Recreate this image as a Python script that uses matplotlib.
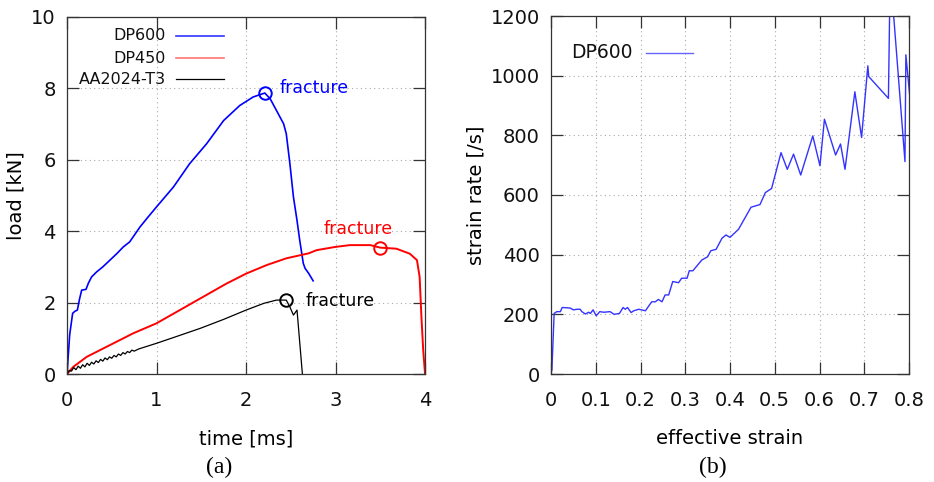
import numpy as np
import matplotlib
matplotlib.use("Agg")
import matplotlib.pyplot as plt
from matplotlib.lines import Line2D

# (a) load vs time
t_dp600 = [0.0, 0.03, 0.063, 0.09, 0.116, 0.14, 0.164, 0.212, 0.24, 0.275, 0.331, 0.4, 0.48, 0.56,
           0.629, 0.70, 0.816, 0.9, 1.0, 1.19, 1.37, 1.56, 1.75, 1.93, 2.08, 2.21,
           2.27, 2.36, 2.42, 2.45, 2.49, 2.53, 2.57, 2.60, 2.64, 2.66, 2.70, 2.75]
f_dp600 = [0.0, 1.1, 1.70, 1.76, 1.79, 2.1, 2.35, 2.37, 2.55, 2.72, 2.86, 3.0, 3.19, 3.38,
           3.56, 3.70, 4.12, 4.38, 4.68, 5.24, 5.89, 6.45, 7.10, 7.52, 7.76, 7.87,
           7.71, 7.29, 7.01, 6.73, 5.9, 4.96, 4.3, 3.75, 3.1, 2.96, 2.82, 2.61]

t_dp450 = [0.0, 0.07, 0.22, 0.48, 0.74, 1.0, 1.26, 1.52, 1.78, 2.0, 2.23, 2.45, 2.70, 2.79,
           3.0, 3.16, 3.39, 3.50, 3.68, 3.83, 3.91, 3.94, 3.96, 3.98, 4.0]
f_dp450 = [0.0, 0.20, 0.48, 0.81, 1.14, 1.42, 1.79, 2.16, 2.53, 2.81, 3.05, 3.24, 3.38, 3.47,
           3.56, 3.61, 3.61, 3.54, 3.51, 3.37, 3.19, 2.72, 1.60, 0.67, 0.02]

t_aa = [0.0, 0.025, 0.05, 0.075, 0.10, 0.125, 0.15, 0.175, 0.20, 0.225, 0.25, 0.275, 0.30,
        0.325, 0.35, 0.375, 0.40, 0.425, 0.45, 0.475, 0.50, 0.525, 0.55, 0.575, 0.60, 0.625,
        0.65, 0.675, 0.70, 0.725, 0.75, 0.80, 0.90, 1.0, 1.2, 1.49, 1.75, 2.0, 2.2, 2.34,
        2.45, 2.49, 2.53, 2.57, 2.63]
f_aa = [0.0, 0.10, 0.08, 0.18, 0.12, 0.22, 0.16, 0.26, 0.20, 0.30, 0.24, 0.33, 0.28,
        0.37, 0.32, 0.41, 0.36, 0.45, 0.40, 0.48, 0.44, 0.52, 0.48, 0.56, 0.52, 0.60,
        0.56, 0.63, 0.60, 0.67, 0.64, 0.70, 0.78, 0.86, 1.03, 1.28, 1.53, 1.79, 1.98, 2.07,
        2.07, 1.88, 1.65, 1.79, 0.0]

frac_t = [2.21, 3.50, 2.45]
frac_f = [7.87, 3.54, 2.07]

# (b) strain rate vs effective strain
eps = [0.002, 0.007, 0.013, 0.021, 0.025, 0.043, 0.05, 0.058, 0.065, 0.069, 0.077, 0.084, 0.088,
       0.094, 0.101, 0.109, 0.118, 0.132, 0.141, 0.153, 0.161, 0.166, 0.171, 0.179, 0.185, 0.196,
       0.211, 0.225, 0.233, 0.24, 0.248, 0.255, 0.263, 0.272, 0.285, 0.292, 0.304, 0.309, 0.317,
       0.337, 0.35, 0.357, 0.369, 0.382, 0.391, 0.4, 0.419, 0.447, 0.467, 0.479, 0.493, 0.514,
       0.528, 0.542, 0.558, 0.585, 0.601, 0.611, 0.636, 0.647, 0.657, 0.679, 0.694, 0.708, 0.71,
       0.754, 0.758, 0.791, 0.793, 0.805]
rate = [13, 203, 209, 209, 223, 221, 215, 217, 217, 209, 201, 207, 203,
        215, 195, 209, 207, 209, 200, 203, 223, 217, 223, 206, 212, 217,
        212, 242, 242, 250, 242, 265, 265, 310, 306, 321, 321, 346, 346,
        382, 393, 413, 418, 455, 466, 458, 485, 559, 568, 608, 622, 742,
        686, 737, 667, 798, 698, 854, 734, 771, 686, 946, 793, 1033, 997,
        924, 1350, 712, 1070, 880]

fig = plt.figure(figsize=(9.34, 4.82), dpi=100)
ax1 = fig.add_axes([67/934, 1-374/482, 358/934, 357/482])
ax2 = fig.add_axes([551/934, 1-374/482, 358/934, 358/482])


def style(ax):
    ax.tick_params(direction='in', length=8.5, width=0.9, top=True, right=True,
                   labelsize=14, colors='#333333', labelcolor='#111111')
    ax.tick_params(axis='x', pad=12)
    ax.tick_params(axis='y', pad=8)
    for s in ax.spines.values():
        s.set_linewidth(0.9)
        s.set_color('#333333')
    ax.grid(True, linestyle=(0, (1, 3)), color='#aaaaaa', linewidth=0.8)
    ax.set_axisbelow(True)


names = ['DP600', 'DP450', 'AA2024-T3']
colors = ['blue', 'red', 'black']
widths = [1.2, 1.4, 0.9]
ax1.plot(t_dp600, f_dp600, color=colors[0], lw=widths[0])
ax1.plot(t_dp450, f_dp450, color=colors[1], lw=widths[1])
ax1.plot(t_aa, f_aa, color=colors[2], lw=widths[2])
for i in range(3):
    ax1.plot(frac_t[i], frac_f[i], 'o', mfc='none', mec=colors[i], ms=9, mew=1.4)
ax1.text(2.38, 8.0, 'fracture', color='blue', fontsize=12.5, va='center')
ax1.text(2.87, 4.05, 'fracture', color='red', fontsize=12.5, va='center')
ax1.text(2.67, 2.04, 'fracture', color='black', fontsize=12.5, va='center')
ax1.set_xlim(0, 4)
ax1.set_ylim(0, 10)
ax1.set_xticks([0, 1, 2, 3, 4])
ax1.set_yticks([0, 2, 4, 6, 8, 10])
style(ax1)
ax1.set_xlabel('time [ms]', fontsize=14, labelpad=14)
ax1.set_ylabel('load [kN]', fontsize=14, labelpad=4)

# gnuplot-style key: right-aligned labels, sample line after
key_y = [0.947, 0.885, 0.826]
for i in range(3):
    ax1.text(0.276, key_y[i], names[i], transform=ax1.transAxes, ha='right', va='center',
             fontsize=11.5, color='#111111')
    ax1.add_line(Line2D([0.304, 0.439], [key_y[i], key_y[i]], transform=ax1.transAxes,
                        color=colors[i], lw=widths[i] if i != 1 else 1.2,
                        alpha=0.8 if i == 0 else (0.55 if i == 1 else 1.0)))

ax2.plot(eps, rate, color='#3333ff', lw=1.0, label='DP600')
ax2.set_xlim(0, 0.8)
ax2.set_ylim(0, 1200)
ax2.set_xticks(np.arange(0, 0.81, 0.1))
ax2.set_xticklabels(['0', '0.1', '0.2', '0.3', '0.4', '0.5', '0.6', '0.7', '0.8'])
ax2.set_yticks([0, 200, 400, 600, 800, 1000, 1200])
style(ax2)
ax2.set_xlabel('effective strain', fontsize=14, labelpad=14)
ax2.set_ylabel('strain rate [/s]', fontsize=14, labelpad=4)
ax2.text(0.229, 0.897, 'DP600', transform=ax2.transAxes, ha='right', va='center',
         fontsize=13.5, color='#111111')
ax2.add_line(Line2D([0.265, 0.397], [0.897, 0.897], transform=ax2.transAxes,
                    color='#3333ff', lw=1.0, alpha=0.75))

fig.text(219/934, 1-467/482, '(a)', family='Liberation Serif', fontsize=17,
         ha='center', va='center')
fig.text(713/934, 1-467/482, '(b)', family='Liberation Serif', fontsize=17,
         ha='center', va='center')

fig.savefig('out.png', dpi=100)
